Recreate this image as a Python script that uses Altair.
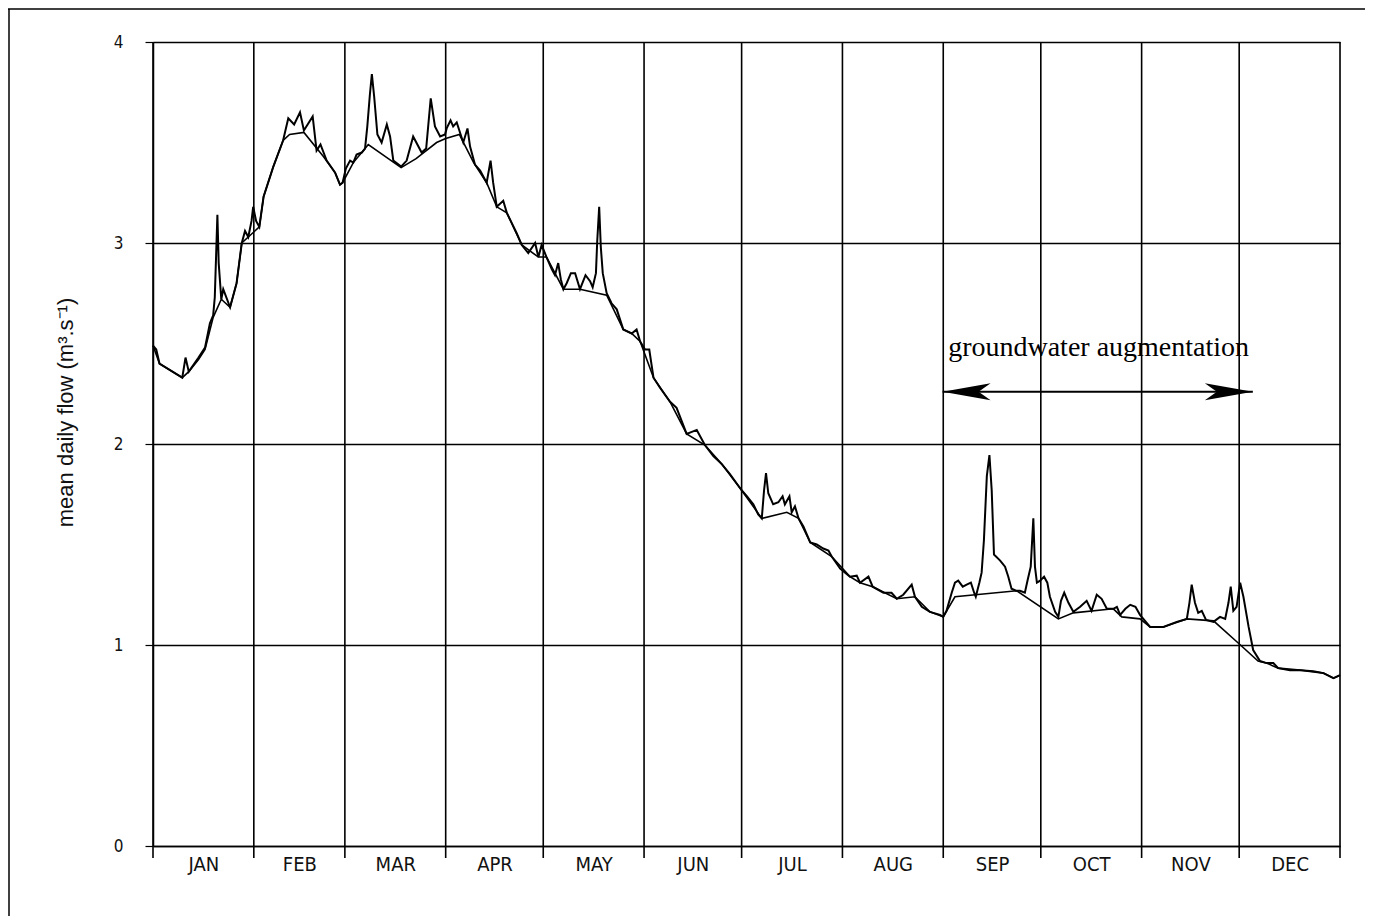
import json
import altair as alt
import pandas as pd

# ---------------- data ----------------
MONTHS = ["JAN", "FEB", "MAR", "APR", "MAY", "JUN", "JUL", "AUG", "SEP", "OCT", "NOV", "DEC"]
MONTH_STARTS = [0, 31, 59, 90, 120, 151, 181, 212, 243, 273, 304, 334, 365]
Y_TICKS = [0, 1, 2, 3, 4]

FLOW_DAY = [0, 1, 2, 4, 7, 9, 10, 11, 14, 16, 17.5, 18.5, 19, 19.8, 20.2, 21, 21.6, 23.7, 25.7, 27.3,
            28.3, 29.3, 30.3, 30.8, 31.7, 32.7, 34, 37, 40, 41.6, 43.4, 45.2, 46.4, 49.1, 50.3, 51.5,
            53.4, 56, 57.5, 58.3, 59.3, 60.6, 61.6, 62.6, 64.2, 65.2, 65.9, 66.7, 67.3, 68, 69, 70.3,
            71.9, 72.9, 73.9, 76.3, 78, 80, 82.6, 84, 85.4, 86.7, 88.3, 89.8, 90.3, 91.5, 92.3, 93.4,
            94.2, 95.4, 96.7, 97.5, 99, 100.6, 102.6, 103.8, 104.6, 105.7, 107.7, 108.8, 110.3, 111.8,
            113.4, 115.4, 117.5, 118.5, 119.5, 121, 122.6, 123.6, 124.6, 125.4, 126.2, 127.2, 128.5,
            129.8, 131.3, 133, 134.4, 135.2, 136.2, 136.6, 137.2, 137.7, 138.3, 139.5, 141, 142.6,
            144.6, 147.2, 148.7, 149.8, 151.3, 152.6, 153.9, 155.9, 159, 161, 164.1, 167.2, 169.7,
            172.3, 174.9, 177.4, 181, 182.6, 184.6, 186.1, 187.2, 187.9, 188.5, 189.2, 190.7, 192.3,
            193.6, 194.3, 195.7, 196.4, 197.4, 198.5, 200, 202.1, 204.1, 206.1, 207.7, 208.7, 211.3,
            214.3, 216.4, 217.4, 220, 221.3, 224.6, 227.1, 228.7, 230.7, 233.3, 234.3, 236.4, 238.9,
            242, 243, 244, 245.6, 246.6, 247.6, 249, 250.2, 251.5, 252.5, 253, 254.1, 254.8, 255.5,
            256.4, 257.2, 257.9, 258.6, 260.5, 262, 263, 264, 265.4, 266.6, 268.1, 268.9, 269.9,
            270.7, 271.2, 271.8, 272.8, 274, 275, 275.8, 277.4, 278.4, 279.2, 280.2, 281.5, 283,
            285.1, 287.1, 288.6, 290.2, 291.7, 293.3, 295.3, 296.4, 297.4, 299, 300.5, 302.1, 303.5,
            306.6, 310.7, 314.8, 317.9, 318.7, 319.4, 320.4, 321.4, 322.5, 323.8, 326.1, 328.1,
            329.7, 330.7, 331.4, 332.2, 333.2, 334.3, 335.3, 336.9, 338.3, 340.4, 342.4, 344.5, 346,
            349.6, 352.7, 356.8, 359.9, 363, 365]
FLOW_VAL = [2.49, 2.47, 2.40, 2.38, 2.35, 2.33, 2.43, 2.36, 2.43, 2.48, 2.60, 2.64, 2.73, 3.14, 2.90,
            2.72, 2.77, 2.68, 2.80, 3.00, 3.06, 3.03, 3.11, 3.18, 3.11, 3.08, 3.23, 3.38, 3.51, 3.62,
            3.59, 3.65, 3.56, 3.63, 3.46, 3.49, 3.41, 3.35, 3.29, 3.30, 3.37, 3.41, 3.40, 3.44, 3.45,
            3.47, 3.58, 3.74, 3.84, 3.73, 3.54, 3.50, 3.59, 3.53, 3.41, 3.38, 3.41, 3.53, 3.45, 3.47,
            3.72, 3.58, 3.53, 3.54, 3.57, 3.61, 3.58, 3.60, 3.56, 3.50, 3.57, 3.48, 3.39, 3.36, 3.30,
            3.41, 3.30, 3.18, 3.21, 3.15, 3.10, 3.05, 2.99, 2.95, 3.00, 2.93, 2.99, 2.93, 2.87, 2.84,
            2.90, 2.82, 2.77, 2.80, 2.85, 2.85, 2.77, 2.84, 2.81, 2.78, 2.85, 3.01, 3.18, 2.98, 2.85,
            2.75, 2.70, 2.67, 2.57, 2.55, 2.57, 2.51, 2.47, 2.47, 2.33, 2.28, 2.21, 2.18, 2.05, 2.07,
            1.995, 1.94, 1.90, 1.85, 1.77, 1.74, 1.70, 1.65, 1.63, 1.77, 1.855, 1.755, 1.70, 1.71,
            1.74, 1.70, 1.74, 1.66, 1.69, 1.63, 1.59, 1.51, 1.50, 1.48, 1.47, 1.44, 1.38, 1.34, 1.345,
            1.31, 1.34, 1.29, 1.26, 1.26, 1.23, 1.25, 1.30, 1.24, 1.19, 1.165, 1.15, 1.14, 1.17, 1.26,
            1.31, 1.32, 1.29, 1.30, 1.31, 1.26, 1.24, 1.31, 1.36, 1.52, 1.84, 1.945, 1.77, 1.45, 1.42,
            1.39, 1.34, 1.28, 1.27, 1.27, 1.26, 1.32, 1.39, 1.63, 1.39, 1.31, 1.32, 1.34, 1.31, 1.24,
            1.165, 1.14, 1.22, 1.26, 1.21, 1.165, 1.19, 1.22, 1.17, 1.25, 1.23, 1.18, 1.18, 1.19, 1.15,
            1.18, 1.20, 1.19, 1.15, 1.09, 1.09, 1.115, 1.13, 1.21, 1.30, 1.21, 1.16, 1.17, 1.125,
            1.115, 1.14, 1.13, 1.21, 1.29, 1.17, 1.19, 1.31, 1.24, 1.09, 0.975, 0.92, 0.91, 0.91,
            0.885, 0.875, 0.875, 0.87, 0.86, 0.835, 0.85]

BASE_DAY = [0, 2, 9, 11, 14, 16, 18.5, 21, 23.7, 25.7, 27.3, 29.3, 32.7, 34, 37, 40, 42, 46.4, 52.4,
            56, 57.5, 58.3, 61.6, 65.2, 66.2, 76.3, 80.9, 87.2, 90, 94.2, 98.6, 102.6, 105.7, 108.8,
            113.4, 118.5, 121, 126.2, 131.3, 139.5, 144.6, 147.2, 149.8, 153.9, 159, 164.1, 169.7,
            174.9, 181, 187.2, 194.9, 198.5, 202.1, 208.7, 214.3, 217.4, 221.3, 228.7, 234.3, 238.9,
            243, 246.6, 265.6, 278.4, 283, 295.3, 297.9, 303.5, 306.6, 310.7, 317.9, 326.1, 333.7,
            339.8, 342.4, 346, 352.7, 359.9, 363, 365]
BASE_VAL = [2.49, 2.40, 2.33, 2.36, 2.42, 2.47, 2.63, 2.72, 2.68, 2.80, 3.00, 3.03, 3.08, 3.23, 3.38,
            3.51, 3.54, 3.55, 3.43, 3.35, 3.29, 3.30, 3.40, 3.47, 3.49, 3.375, 3.42, 3.50, 3.52, 3.54,
            3.40, 3.30, 3.18, 3.15, 2.99, 2.93, 2.93, 2.77, 2.77, 2.74, 2.57, 2.55, 2.51, 2.33, 2.21,
            2.05, 1.995, 1.90, 1.77, 1.63, 1.66, 1.63, 1.51, 1.44, 1.34, 1.31, 1.29, 1.23, 1.24,
            1.165, 1.14, 1.24, 1.27, 1.13, 1.16, 1.18, 1.14, 1.13, 1.09, 1.09, 1.13, 1.12, 1.01, 0.92,
            0.91, 0.885, 0.875, 0.86, 0.835, 0.85]

ANNOT_TEXT = "groundwater augmentation"
ARROW_FROM, ARROW_TO, ARROW_LEVEL = 242.8, 338.2, 2.26
TEXT_DAY, TEXT_LEVEL = 244.5, 2.44

# ---------------- tables ----------------
MONTH_MIDS = [(MONTH_STARTS[i] + MONTH_STARTS[i + 1]) / 2 for i in range(12)]
flow_df = pd.DataFrame({"day": FLOW_DAY, "flow": FLOW_VAL})
base_df = pd.DataFrame({"day": BASE_DAY, "flow": BASE_VAL})
grid_df = pd.DataFrame({"day": MONTH_STARTS})
arrow_df = pd.DataFrame({"a": [ARROW_FROM], "b": [ARROW_TO], "lvl": [ARROW_LEVEL]})
left_df = pd.DataFrame({"day": [ARROW_FROM], "flow": [ARROW_LEVEL]})
right_df = pd.DataFrame({"day": [ARROW_TO], "flow": [ARROW_LEVEL]})
text_df = pd.DataFrame({"day": [TEXT_DAY], "flow": [TEXT_LEVEL], "t": [ANNOT_TEXT]})
one_df = pd.DataFrame({"k": [0]})

W, H = 1187, 804
NARROW = "Liberation Sans Narrow, Arial Narrow, DejaVu Sans Condensed, Liberation Sans, sans-serif"
SANS = "Liberation Sans, Arial, sans-serif"

XS = alt.Scale(domain=[0, 365], nice=False, zero=False)
YS = alt.Scale(domain=[0, 4], nice=False)

XAXIS = alt.Axis(
    values=MONTH_MIDS,
    labelExpr=f"{json.dumps(MONTHS)}[indexof({json.dumps(MONTH_MIDS)}, datum.value)]",
    ticks=False, grid=False, domain=True, domainColor="black", domainWidth=1.5,
    labelPadding=8, labelFont=NARROW, labelFontSize=20, labelColor="#111",
    title=None, labelFlush=False, labelOverlap=False,
)
YAXIS = alt.Axis(
    values=Y_TICKS, grid=True, gridColor="black", gridWidth=1.5,
    domain=True, domainColor="black", domainWidth=1.5,
    ticks=True, tickColor="black", tickSize=8, tickWidth=1.2,
    labelPadding=22, labelFont=NARROW, labelFontSize=17, labelColor="#111",
    title="mean daily flow (m³.s⁻¹)", titleFont=SANS, titleFontSize=22,
    titleFontWeight="normal", titleColor="#111",
    titleX=-88, titleY=370, titleAngle=-90, titleAlign="center", titleBaseline="middle",
)


def xq(field="day"):
    return alt.X(f"{field}:Q", scale=XS, axis=XAXIS)


def yq(field="flow"):
    return alt.Y(f"{field}:Q", scale=YS, axis=YAXIS)


month_grid = alt.Chart(grid_df).mark_rule(color="black", strokeWidth=1.6).encode(
    x=xq(), y=alt.value(0), y2=alt.value(H + 12)
)

base_line = alt.Chart(base_df).mark_line(color="black", strokeWidth=1.6).encode(
    x=xq(), y=yq()
)
flow_line = alt.Chart(flow_df).mark_line(color="black", strokeWidth=2).encode(
    x=xq(), y=yq()
)

arrow = alt.Chart(arrow_df).mark_rule(color="black", strokeWidth=2).encode(
    x=xq("a"), x2="b:Q", y=yq("lvl")
)
head_left = alt.Chart(left_df).mark_point(
    shape="M0,0 L2,-0.35 L1.5,0 L2,0.35 Z", filled=True, size=2304, color="black", opacity=1
).encode(x=xq(), y=yq())
head_right = alt.Chart(right_df).mark_point(
    shape="M0,0 L-2,-0.35 L-1.5,0 L-2,0.35 Z", filled=True, size=2304, color="black", opacity=1
).encode(x=xq(), y=yq())

label = alt.Chart(text_df).mark_text(
    align="left", baseline="alphabetic", font="Liberation Serif, Times New Roman, serif",
    fontSize=28, color="black"
).encode(x=xq(), y=yq(), text="t:N")

frame_left = alt.Chart(one_df).mark_rule(color="black", strokeWidth=1.5).encode(
    x=alt.value(-144), y=alt.value(-33), y2=alt.value(H + 80)
)
frame_top = alt.Chart(one_df).mark_rule(color="black", strokeWidth=1.5).encode(
    x=alt.value(-145), x2=alt.value(W + 40), y=alt.value(-33)
)

chart = alt.layer(
    month_grid, base_line, flow_line, arrow, head_left, head_right, label, frame_left, frame_top
).properties(
    width=W, height=H,
    autosize=alt.AutoSizeParams(type="none"),
    padding={"left": 145, "top": 34, "right": 25, "bottom": 70},
).configure_view(
    stroke="black", strokeWidth=1.5
).configure(background="white")

chart.save("out.html", embed_options={"renderer": "svg", "actions": False})
